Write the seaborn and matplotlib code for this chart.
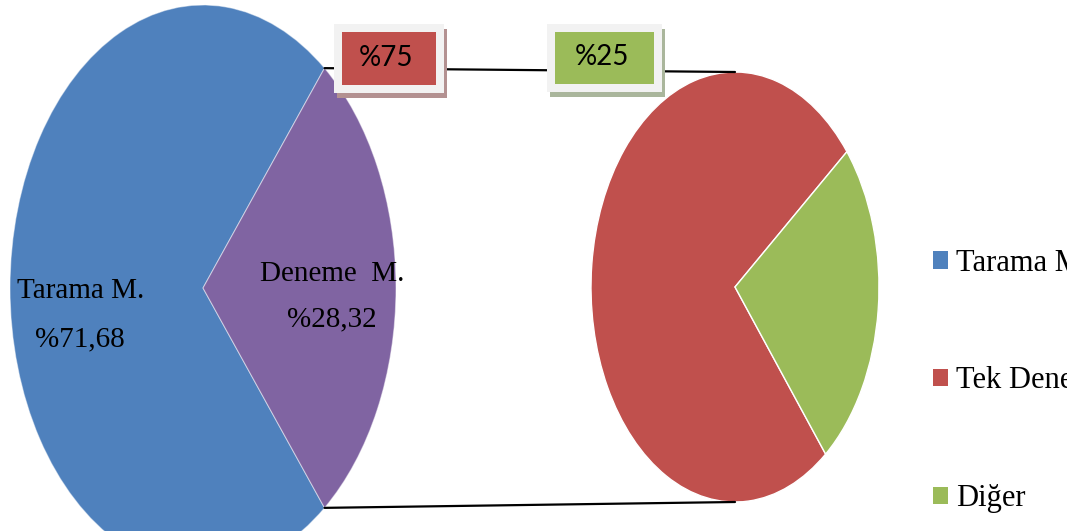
import numpy as np
import matplotlib
matplotlib.use("Agg")
import matplotlib.pyplot as plt
from matplotlib.patches import Patch, Rectangle
import seaborn as sns

# ana dagilim (sol pasta)
main_labels = ["Tarama M.", "Deneme  M."]
main_values = [71.68, 28.32]
main_texts = ["%71,68", "%28,32"]

# deneme yontemi alt dagilimi (sag pasta)
sub_labels = ["Tek Deneme M.", "Diğer"]
sub_values = [75, 25]
sub_texts = ["%75", "%25"]

legend_labels = ["Tarama M.", "Tek Deneme M.", "Diğer"]

BLUE, PURPLE, RED, GREEN = "#4F81BD", "#8064A2", "#C0504D", "#9BBB59"

sns.set_theme(style="white")
plt.rcParams["font.family"] = ["Liberation Serif", "DejaVu Serif"]
plt.rcParams["text.color"] = "black"

W, H = 1067, 531
fig = plt.figure(figsize=(W / 100, H / 100), dpi=100)
fig.patch.set_facecolor("white")


def px_axes(x0, y0, x1, y1):
    # piksel kutusu (ust-sol orijin) -> figur ekseni
    return fig.add_axes([x0 / W, (H - y1) / H, (x1 - x0) / W, (y1 - y0) / H])


# sol pasta: deneme dilimi saga simetrik
half = main_values[1] / sum(main_values) * 180
ax1 = px_axes(10, 5, 396, 571)
ax1.pie(main_values, colors=[BLUE, PURPLE], startangle=half, radius=1,
        wedgeprops=dict(linewidth=0.8, edgecolor=(1, 1, 1, 0.45)))
ax1.set_xlim(-1, 1)
ax1.set_ylim(-1, 1)
ax1.set_aspect("auto")
ax1.axis("off")

lab = dict(ha="center", va="center", fontsize=21, color="black")
ax1.text(-0.635, -0.01, main_labels[0], **lab)
ax1.text(-0.64, -0.18, main_texts[0], **lab)
ax1.text(0.67, 0.05, main_labels[1], **lab)
ax1.text(0.67, -0.11, main_texts[1], **lab)

# sag pasta
ax2 = px_axes(591, 72, 879, 502)
ax2.pie(sub_values, colors=[RED, GREEN], startangle=39, radius=1)
ax2.set_xlim(-1, 1)
ax2.set_ylim(-1, 1)
ax2.set_aspect("auto")
ax2.axis("off")

# ust katman: baglanti cizgileri ve etiket kutulari
ov = fig.add_axes([0, 0, 1, 1])
ov.set_xlim(0, W)
ov.set_ylim(H, 0)
ov.axis("off")


def to_img(ax, pt):
    x, y = ax.transData.transform(pt)
    return x, H - y


t = np.deg2rad(half)
p_top = to_img(ax1, (np.cos(t), np.sin(t)))
p_bot = to_img(ax1, (np.cos(t), -np.sin(t)))
q_top = to_img(ax2, (0, 1))
q_bot = to_img(ax2, (0, -1))
ov.plot([p_top[0], q_top[0]], [p_top[1], q_top[1]], color="black", lw=1.6, zorder=1)
ov.plot([p_bot[0], q_bot[0]], [p_bot[1], q_bot[1]], color="black", lw=1.6, zorder=1)

boxes = [
    # dis kutu x, y, w, h, dolgu, golge
    (334, 24, 110, 69, RED, "#B39191"),
    (547, 24, 115, 68, GREEN, "#AAB69C"),
]
for (bx, by, bw, bh, face, shade), txt in zip(boxes, sub_texts):
    ov.add_patch(Rectangle((bx + 3, by + 5), bw, bh, facecolor=shade, edgecolor="none", zorder=2))
    ov.add_patch(Rectangle((bx, by), bw, bh, facecolor="#F2F2F2", edgecolor="none", zorder=3))
    ov.add_patch(Rectangle((bx + 8, by + 8), bw - 16, bh - 16, facecolor=face, edgecolor="none", zorder=4))
    ov.text(bx + bw / 2 - 3, by + bh / 2 - 1, txt, ha="center", va="center",
            fontsize=20, family=["Lato", "DejaVu Sans"], color="black", zorder=5)

handles = [Patch(facecolor=c, edgecolor="none") for c in (BLUE, RED, GREEN)]
fig.legend(handles, legend_labels, loc="center left",
           bbox_to_anchor=(933 / W, (H - 381) / H), frameon=False, fontsize=22,
           handlelength=0.5, handleheight=0.5, handletextpad=0.25,
           labelspacing=2.9, borderpad=0, borderaxespad=0, labelcolor="black")

fig.savefig("out.png", dpi=100, facecolor="white")
